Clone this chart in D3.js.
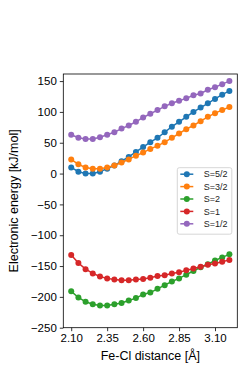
<!DOCTYPE html>
<html>
<head>
<meta charset="utf-8">
<script src="https://cdn.jsdelivr.net/npm/d3@7"></script>
<style>
  body { margin: 0; background: #fff; }
  text { font-family: "Liberation Sans", "DejaVu Sans", sans-serif; }
</style>
</head>
<body>
<svg id="chart"></svg>
<script>
// Fe-Cl distances (Angstrom), 2.10 .. 3.20 in steps of 0.05
var distances = [2.10, 2.15, 2.20, 2.25, 2.30, 2.35, 2.40, 2.45, 2.50, 2.55, 2.60, 2.65,
                 2.70, 2.75, 2.80, 2.85, 2.90, 2.95, 3.00, 3.05, 3.10, 3.15, 3.20];

// electronic energies in kJ/mol
var s52 = [10, 3, 0, 0, 3, 8, 13, 20, 27, 35, 43, 51, 58, 67, 76, 84, 92, 100, 107, 114, 121, 128, 134];
var s32 = [23, 15, 10, 8, 8, 10, 13, 18, 23, 29, 34, 40, 45, 51, 58, 65, 72, 78, 85, 92, 98, 103, 108];
var s2  = [-191, -201, -208, -212, -214, -214, -212, -210, -206, -202, -196, -193, -187, -181, -175, -170, -164, -158, -152, -147, -141, -136, -131];
var s1  = [-132, -145, -155, -162, -167, -170, -172, -173, -173, -172, -171, -169, -166, -165, -162, -160, -157, -154, -151, -148, -146, -143, -140];
var s12 = [63, 58, 56, 56, 59, 63, 67, 73, 78, 84, 91, 97, 103, 109, 114, 118, 122, 127, 130, 136, 140, 145, 150];

var seriesNames = ["S=5/2", "S=3/2", "S=2", "S=1", "S=1/2"];
var seriesValues = [s52, s32, s2, s1, s12];
var colors = ["#1f77b4", "#ff7f0e", "#2ca02c", "#d62728", "#9467bd"];

var xTicks = [2.10, 2.35, 2.60, 2.85, 3.10];
var yTicks = [-250, -200, -150, -100, -50, 0, 50, 100, 150];

var svgWidth = 249, svgHeight = 374;
var margin = { top: 74, right: 11.7, bottom: 46.3, left: 63.3 };
var width = svgWidth - margin.left - margin.right;
var height = svgHeight - margin.top - margin.bottom;

var svg = d3.select("#chart")
    .attr("width", svgWidth)
    .attr("height", svgHeight);

var g = svg.append("g")
    .attr("transform", "translate(" + margin.left + "," + margin.top + ")");

var x = d3.scaleLinear().domain([2.045, 3.255]).range([0, width]);
var y = d3.scaleLinear().domain([-250, 161.5]).range([height, 0]);

var minus = function(v) { return String(v).replace("-", "\u2212"); };

// x axis
var xAxis = g.append("g")
    .attr("transform", "translate(0," + height + ")")
    .call(d3.axisBottom(x).tickValues(xTicks).tickFormat(d3.format(".2f")).tickSizeOuter(0).tickSize(3.5).tickPadding(3));
xAxis.select(".domain").remove();
xAxis.selectAll("text").attr("font-size", 11.5).attr("fill", "#000").attr("font-family", "Liberation Sans");
xAxis.selectAll("line").attr("stroke-width", 0.8);

// y axis
var yAxis = g.append("g")
    .call(d3.axisLeft(y).tickValues(yTicks).tickFormat(minus).tickSizeOuter(0).tickSize(3.5).tickPadding(3));
yAxis.select(".domain").remove();
yAxis.selectAll("text").attr("font-size", 11.5).attr("fill", "#000").attr("font-family", "Liberation Sans");
yAxis.selectAll("line").attr("stroke-width", 0.8);

// series
var line = d3.line()
    .x(function(d) { return x(d[0]); })
    .y(function(d) { return y(d[1]); });

seriesValues.forEach(function(vals, k) {
    var pts = distances.map(function(d, i) { return [d, vals[i]]; });
    g.append("path")
        .datum(pts)
        .attr("fill", "none")
        .attr("stroke", colors[k])
        .attr("stroke-width", 1.5)
        .attr("d", line);
    g.selectAll(".pt" + k)
        .data(pts)
        .enter().append("circle")
        .attr("cx", function(d) { return x(d[0]); })
        .attr("cy", function(d) { return y(d[1]); })
        .attr("r", 3)
        .attr("fill", colors[k]);
});

// frame
g.append("rect")
    .attr("width", width)
    .attr("height", height)
    .attr("fill", "none")
    .attr("stroke", "#000")
    .attr("stroke-width", 0.8);

// axis labels
svg.append("text")
    .attr("x", margin.left + x(2.65))
    .attr("y", 360)
    .attr("text-anchor", "middle")
    .attr("font-size", 12.5)
    .text("Fe-Cl distance [\u00c5]");

svg.append("text")
    .attr("transform", "translate(18," + (margin.top + height / 2) + ") rotate(-90)")
    .attr("text-anchor", "middle")
    .attr("font-size", 12.5)
    .text("Electronic energy [kJ/mol]");

// legend
var lg = svg.append("g").attr("transform", "translate(177.3,167.7)");
lg.append("rect")
    .attr("width", 54.5)
    .attr("height", 66.5)
    .attr("rx", 2)
    .attr("fill", "#fff")
    .attr("fill-opacity", 0.8)
    .attr("stroke", "#ccc")
    .attr("stroke-width", 0.8);
seriesNames.forEach(function(name, k) {
    var yy = 6.5 + k * 12.4;
    lg.append("line")
        .attr("x1", 3).attr("x2", 16)
        .attr("y1", yy).attr("y2", yy)
        .attr("stroke", colors[k])
        .attr("stroke-width", 1.5);
    lg.append("circle")
        .attr("cx", 9.5).attr("cy", yy).attr("r", 3)
        .attr("fill", colors[k]);
    lg.append("text")
        .attr("x", 26.5).attr("y", yy)
        .attr("dy", "0.35em")
        .attr("font-size", 9)
        .attr("fill", "#222")
        .text(name);
});
</script>
</body>
</html>
